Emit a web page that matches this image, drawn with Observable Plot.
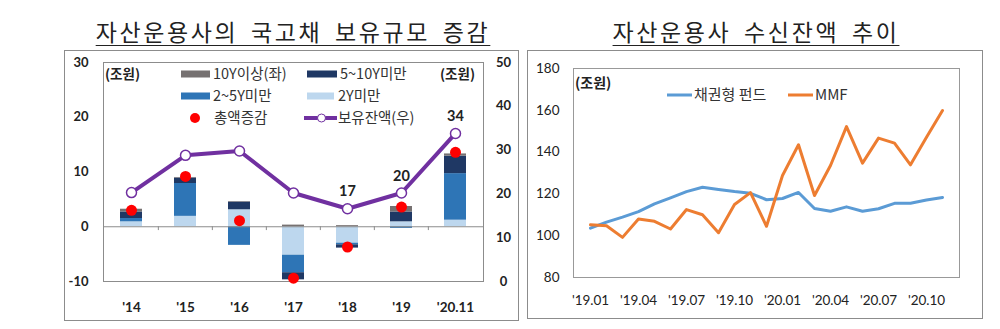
<!DOCTYPE html>
<html><head><meta charset="utf-8">
<script src="https://cdn.jsdelivr.net/npm/d3@7"></script>
<script src="https://cdn.jsdelivr.net/npm/@observablehq/plot@0.6"></script>
<style>
body{margin:0;background:#fff;}
#wrap{position:relative;width:1000px;height:329px;overflow:hidden;font-family:Lato,"Noto Sans CJK KR",sans-serif;}
.title{position:absolute;top:16px;font-family:"Noto Sans CJK KR",sans-serif;font-size:23px;letter-spacing:2.6px;word-spacing:5px;text-decoration:underline;text-decoration-thickness:1px;text-underline-offset:4px;color:#222;white-space:nowrap;transform:translateX(-50%);line-height:30px;}
.panel{position:absolute;border:1px solid #8c8c8c;box-sizing:border-box;}
.plot{position:absolute;}
.lg{position:absolute;font-family:"Noto Sans CJK KR",sans-serif;font-size:14.5px;color:#333;white-space:nowrap;line-height:16px;transform:translateY(-50%);}
.sw{position:absolute;transform:translateY(-50%);}
.unit{position:absolute;font-family:"Noto Sans CJK KR",sans-serif;font-size:13.5px;font-weight:bold;color:#222;white-space:nowrap;line-height:16px;transform:translateY(-50%);}
</style>
</head>
<body>
<div id="wrap"></div>
<script>
// ---------- Left chart data ----------
const years = ["'14","'15","'16","'17","'18","'19","'20.11"];
const seriesNames = ["2Y미만","2~5Y미만","5~10Y미만","10Y이상"];
const under2Y = [0.9, 1.9, 3.1, -5.2, -3.0, 0.9, 1.2];
const from2to5Y = [0.6, 6.0, -3.4, -3.2, -0.3, -0.3, 8.5];
const from5to10Y = [1.2, 1.0, 1.4, -1.3, -0.6, 1.8, 3.2];
const over10Y = [0.5, 0.1, 0.1, 0.3, 0.2, 1.0, 0.4];
const totalChange = [3.0, 9.2, 1.1, -9.4, -3.7, 3.6, 13.6];
const holdings = [20.3, 28.8, 29.8, 20.2, 16.6, 20.2, 33.8];
const leftTicks = [-10, 0, 10, 20, 30];
const rightTicks = [0, 10, 20, 30, 40, 50];

// ---------- Right chart data ----------
const months = ["'19.01","'19.02","'19.03","'19.04","'19.05","'19.06","'19.07","'19.08","'19.09","'19.10","'19.11","'19.12",
  "'20.01","'20.02","'20.03","'20.04","'20.05","'20.06","'20.07","'20.08","'20.09","'20.10","'20.11"];
const bondFund = [103.6,106.5,108.9,111.5,115.2,118.1,121.1,123.2,122.1,121.1,120.3,117.2,
  117.8,120.7,113.0,111.7,113.8,111.7,112.9,115.5,115.5,117.1,118.3];
const mmf = [105.2,104.8,99.2,108.0,106.9,103.2,112.5,110.0,101.4,114.9,120.6,104.5,
  128.8,143.5,119.2,133.6,152.2,134.7,146.7,144.3,133.9,147.1,159.9];
const monthTicks = ["'19.01","'19.04","'19.07","'19.10","'20.01","'20.04","'20.07","'20.10"];
const yTicksRight = [80, 100, 120, 140, 160, 180];

const wrap = document.getElementById("wrap");
function add(cls, style, text) {
  const d = document.createElement("div");
  d.className = cls;
  Object.assign(d.style, style);
  if (text != null) d.textContent = text;
  wrap.appendChild(d);
  return d;
}

// titles
add("title", {left: "293px"}, "자산운용사의 국고채 보유규모 증감");
add("title", {left: "756px"}, "자산운용사 수신잔액 추이");

// panel frames
add("panel", {left: "64px", top: "50px", width: "455px", height: "271px"});
add("panel", {left: "527px", top: "50px", width: "456px", height: "269px"});

// ---------- Left plot ----------
const toL = r => -10 + r * 0.8;
const fromL = l => String(Math.round((l + 10) / 0.8));
const barData = [];
years.forEach((yr, i) => {
  [under2Y, from2to5Y, from5to10Y, over10Y].forEach((arr, k) =>
    barData.push({year: yr, series: seriesNames[k], value: arr[i]}));
});
const lineData = years.map((yr, i) => ({year: yr, h: holdings[i], t: totalChange[i]}));
const step = 380 / years.length;

const left = Plot.plot({
  width: 454, height: 270,
  marginLeft: 39, marginRight: 35, marginTop: 12, marginBottom: 39,
  style: {fontFamily: "Lato, 'Noto Sans CJK KR', sans-serif", fontSize: "13px", fontWeight: "bold", color: "#222", background: "transparent", overflow: "visible"},
  x: {type: "band", domain: years, paddingInner: 0.6, paddingOuter: 0.3, label: null},
  y: {domain: [-10, 30], label: null},
  color: {domain: seriesNames, range: ["#bdd7ee", "#2e75b6", "#1f3864", "#767171"]},
  marks: [
    Plot.frame({stroke: "#8c8c8c"}),
    Plot.axisY({ticks: leftTicks, tickFormat: d => String(d), tickSize: 0, tickPadding: 15, label: null}),
    Plot.axisY({anchor: "right", ticks: rightTicks.map(toL), tickFormat: fromL, tickSize: 0, tickPadding: 20, textAnchor: "middle", label: null}),
    Plot.axisX({tickSize: 0, tickPadding: 21, label: null, fontSize: 13.5}),
    Plot.barY(barData, {x: "year", y: "value", fill: "series", order: seriesNames}),
    Plot.ruleY([0], {stroke: "#8c8c8c"}),
    Plot.ruleX(years.slice(1), {x: d => d, y1: 0, y2: -0.7, dx: -step / 2, stroke: "#8c8c8c"}),
    Plot.line(lineData, {x: "year", y: d => toL(d.h), stroke: "#7030a0", strokeWidth: 4}),
    Plot.dot(lineData, {x: "year", y: d => toL(d.h), r: 5, fill: "white", stroke: "#7030a0", strokeWidth: 1.5}),
    Plot.dot(lineData, {x: "year", y: "t", r: 5.5, fill: "#ff0000"}),
    Plot.text(lineData.slice(4), {x: "year", y: d => toL(d.h), text: d => String(Math.round(d.h)), dy: -17, fontSize: 14.5, fontWeight: "bold", fill: "#222"})
  ]
});
left.classList.add("plot");
left.style.left = "64px"; left.style.top = "50px";
wrap.appendChild(left);

// left legend
add("unit", {left: "105px", top: "73px"}, "(조원)");
add("unit", {left: "440px", top: "73px"}, "(조원)");
add("sw", {left: "181px", top: "74px", width: "29px", height: "7px", background: "#767171"});
add("lg", {left: "213px", top: "73px"}, "10Y이상(좌)");
add("sw", {left: "307px", top: "74px", width: "30px", height: "7px", background: "#1f3864"});
add("lg", {left: "340px", top: "73px"}, "5~10Y미만");
add("sw", {left: "181px", top: "96px", width: "29px", height: "7px", background: "#2e75b6"});
add("lg", {left: "213px", top: "95px"}, "2~5Y미만");
add("sw", {left: "307px", top: "96px", width: "27px", height: "7px", background: "#bdd7ee"});
add("lg", {left: "338px", top: "95px"}, "2Y미만");
add("sw", {left: "190px", top: "118px", width: "10px", height: "10px", background: "#ff0000", borderRadius: "50%"});
add("lg", {left: "214px", top: "117px"}, "총액증감");
add("sw", {left: "304px", top: "118px", width: "33px", height: "4px", background: "#7030a0"});
add("sw", {left: "317px", top: "118px", width: "7px", height: "7px", background: "#fff", border: "1.5px solid #7030a0", borderRadius: "50%"});
add("lg", {left: "338px", top: "117px"}, "보유잔액(우)");

// ---------- Right plot ----------
const rightData = months.map((m, i) => ({m, bond: bondFund[i], mmf: mmf[i]}));
const right = Plot.plot({
  width: 455, height: 268,
  marginLeft: 46, marginRight: 23, marginTop: 18, marginBottom: 41,
  style: {fontFamily: "Lato, 'Noto Sans CJK KR', sans-serif", fontSize: "13.5px", color: "#222", background: "transparent", overflow: "visible"},
  x: {type: "point", domain: months, padding: 0.48, label: null},
  y: {domain: [80, 180], label: null},
  marks: [
    Plot.frame({stroke: "#999"}),
    Plot.axisY({ticks: yTicksRight, tickSize: 0, tickPadding: 14, label: null}),
    Plot.axisX({ticks: monthTicks, tickSize: 0, tickPadding: 18, label: null}),
    Plot.line(rightData, {x: "m", y: "bond", stroke: "#5b9bd5", strokeWidth: 3}),
    Plot.line(rightData, {x: "m", y: "mmf", stroke: "#ed7d31", strokeWidth: 3})
  ]
});
right.classList.add("plot");
right.style.left = "527px"; right.style.top = "50px";
wrap.appendChild(right);

// right legend
add("unit", {left: "575px", top: "82px", fontSize: "14px"}, "(조원)");
add("sw", {left: "667px", top: "95px", width: "25px", height: "3px", background: "#5b9bd5"});
add("lg", {left: "694px", top: "94px", fontSize: "15px"}, "채권형 펀드");
add("sw", {left: "788px", top: "95px", width: "25px", height: "3px", background: "#ed7d31"});
add("lg", {left: "815px", top: "94px", fontSize: "15px"}, "MMF");
</script>
</body></html>
